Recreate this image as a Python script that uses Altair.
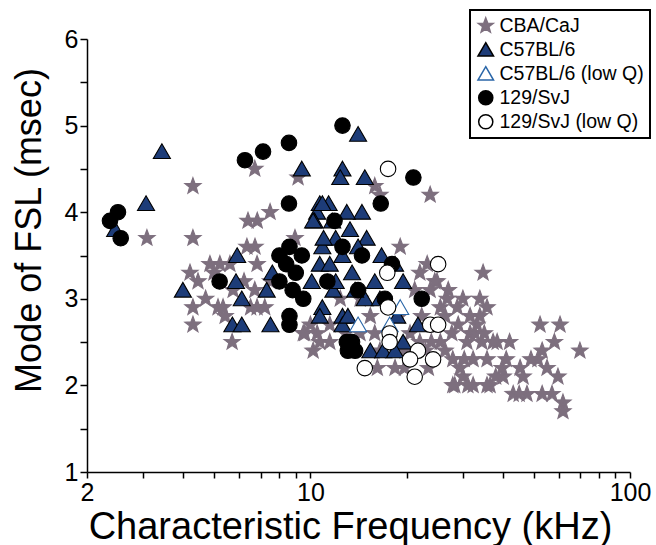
import altair as alt
import pandas as pd

# ---- first-spike latency mode vs characteristic frequency, per strain ----
strains = ["CBA/CaJ", "C57BL/6", "C57BL/6 (low Q)", "129/SvJ", "129/SvJ (low Q)"]

cba_x = [3.08, 4.29, 4.29, 4.85, 5.21, 6.81, 6.7, 9.15, 6.38, 6.82, 7.48, 8.95, 6.33, 6.71,
         4.45, 4.29, 4.29, 5.14, 5.41, 5.69, 6.81, 5.73, 5.33, 4.2, 4.99, 4.7, 6.5, 7.2, 6.7,
         6.2, 5.6, 7.5, 9.5, 10.2, 10.7, 9.6, 10.5, 11.5, 10.0,
         12.4, 14.3, 15.4, 15.9, 14.3, 12.9, 11.5, 15.9, 16.5, 23.7, 19.1, 23.2,
         22.0, 24.9, 26.8, 24.5, 27.0, 19.0, 20.5, 22.0, 25.5, 19.8, 16.5, 18.4, 22.9, 25.5,
         23.7, 21.2, 16.2, 19.7, 23.4, 23.9, 22.3, 26.4, 26.4, 27.9, 28.3, 30.0, 31.6, 29.0,
         34.7, 33.9, 35.7, 33.9, 33.2, 52.3, 60.4, 69.7, 53.1, 51.5, 55.0, 59.5,
         38.4, 34.4, 32.3, 35.7, 39.8, 45.3, 40.1, 46.3, 36.5, 43.1, 47.6, 53.1, 32.3, 61.7, 61.7,
         28.8, 30.0, 27.7, 30.9, 37.3, 29.4, 27.9, 31.1, 35.7,
         31.6, 32.7, 30.3, 35.0, 42.0, 49.0, 38.0, 41.0, 57.0, 58.0, 45.0]
cba_y = [3.7, 3.7, 4.3, 3.4, 3.4, 3.4, 4.5, 4.4, 3.9, 3.9, 4.0, 3.7, 3.6, 3.6,
         3.2, 2.9, 2.7, 2.9, 2.8, 2.5, 2.9, 3.1, 2.9, 3.3, 3.3, 3.0, 2.9, 2.9, 3.1,
         3.2, 3.4, 3.2, 2.6, 2.4, 2.5, 2.6, 2.6, 2.5, 2.7,
         3.0, 3.0, 2.8, 2.6, 2.6, 2.6, 2.7, 4.3, 4.2, 4.2, 3.6, 3.4,
         3.3, 3.2, 3.0, 3.2, 3.1, 2.8, 2.6, 2.5, 2.5, 2.4, 2.4, 2.2, 2.4, 2.9,
         3.1, 3.1, 2.2, 2.2, 2.2, 2.5, 2.8, 2.8, 2.4, 2.3, 2.0, 2.1, 2.6, 2.7,
         3.3, 3.0, 2.9, 2.8, 2.7, 2.7, 2.7, 2.4, 2.4, 2.3, 2.2, 2.1,
         2.5, 2.5, 2.3, 2.3, 2.2, 2.2, 2.1, 2.1, 2.0, 1.9, 1.9, 1.9, 2.0, 1.8, 1.7,
         2.9, 3.0, 2.6, 2.5, 2.5, 2.2, 2.0, 2.0, 2.0,
         2.8, 2.6, 2.3, 2.6, 2.5, 2.3, 2.1, 2.3, 1.9, 2.5, 1.9]

b6_x = [3.43, 3.06, 2.45, 9.4, 12.6, 12.4, 14.8, 14.1, 14.5,
        10.7, 11.4, 10.5, 10.3, 10.9, 10.2,
        13.3, 15.0, 14.1, 16.7, 18.4,
        10.9, 10.7, 11.5, 5.9, 7.6,
        3.99, 5.85, 6.1, 5.7, 6.1, 7.3, 7.5, 10.1, 11.8, 10.9, 10.7, 12.6, 12.6,
        14.8, 19.5, 13.1, 18.7, 21.7, 15.4, 16.9, 19.5, 18.4,
        12.0, 12.6, 13.5, 11.0, 12.0, 13.8, 15.9, 16.5, 11.7, 13.0]
b6_y = [4.7, 4.1, 3.8, 4.5, 4.5, 4.4, 4.4, 4.9, 4.0,
        4.1, 4.1, 4.0, 3.9, 4.1, 3.9,
        3.8, 3.7, 3.6, 3.5, 3.4,
        3.6, 3.4, 3.4, 3.5, 3.3,
        3.1, 3.2, 3.0, 2.7, 2.7, 3.1, 2.7, 3.2, 3.1, 2.9, 2.8, 2.8, 2.7,
        3.0, 3.2, 2.8, 2.8, 2.7, 2.4, 2.4, 2.5, 2.4,
        3.7, 3.5, 3.3, 3.7, 3.2, 3.1, 3.2, 3.0, 3.9, 4.0]

b6lq_x = [14.1, 17.7, 19.1]
b6lq_y = [2.7, 2.7, 2.9]

sv_x = [2.36, 2.50, 2.55, 6.24, 7.11, 8.57, 12.6, 8.57, 21.0, 16.6, 11.9,
        8.6, 8.0, 9.4, 8.0, 8.8, 9.5, 8.6, 8.6, 5.2, 11.3, 13.0,
        14.5, 18.0, 14.1, 17.1, 22.3, 13.5, 13.8, 13.1, 12.6, 8.4, 9.0]
sv_y = [3.9, 4.0, 3.7, 4.6, 4.7, 4.8, 5.0, 4.1, 4.4, 4.1, 3.9,
        3.6, 3.5, 3.5, 3.2, 3.1, 3.0, 2.8, 2.7, 3.2, 3.2, 2.5,
        3.5, 3.4, 3.1, 3.0, 3.0, 2.5, 2.4, 2.4, 3.6, 3.4, 3.3]

svlq_x = [17.5, 25.1, 17.4, 17.5, 17.7, 17.7, 23.7, 25.1, 21.7, 20.5, 24.2, 14.8, 21.2]
svlq_y = [4.5, 3.4, 3.3, 2.9, 2.6, 2.5, 2.7, 2.7, 2.4, 2.3, 2.3, 2.2, 2.1]

series = [(cba_x, cba_y), (b6_x, b6_y), (b6lq_x, b6lq_y), (sv_x, sv_y), (svlq_x, svlq_y)]
frames = []
for name, (xs, ys) in zip(strains, series):
    frames.append(pd.DataFrame({"cf": xs, "fsl": ys, "strain": name}))
df = pd.concat(frames, ignore_index=True)

STAR = ("M0,-1.1L0.27,-0.37L1.05,-0.34L0.44,0.14L0.65,0.89L0,0.46"
        "L-0.65,0.89L-0.44,0.14L-1.05,-0.34L-0.27,-0.37Z")
TRI = "M0,-1L1.1,0.9L-1.1,0.9Z"

FONT = "Liberation Sans"

x_ticks = [2, 3, 4, 5, 6, 7, 8, 9, 10, 20, 30, 40, 50, 60, 70, 80, 90, 100]
y_ticks = [1, 1.5, 2, 2.5, 3, 3.5, 4, 4.5, 5, 5.5, 6]

points = alt.Chart(df).mark_point(filled=False, opacity=1, size=240, strokeWidth=1.1).encode(
    x=alt.X("cf:Q",
            scale=alt.Scale(type="log", domain=[2, 100], nice=False),
            axis=alt.Axis(values=x_ticks,
                          labelExpr="indexof([2, 10, 100], datum.value) >= 0 ? format(datum.value, 'd') : ''",
                          title="Characteristic Frequency (kHz)",
                          labelFlush=False,
                          tickSize=6, labelPadding=2,
                          titleFontSize=38,
                          titleX=263, titleY=66, titleBaseline="alphabetic")),
    y=alt.Y("fsl:Q",
            scale=alt.Scale(domain=[1, 6], nice=False, zero=False),
            axis=alt.Axis(values=y_ticks,
                          labelExpr="datum.value % 1 === 0 ? format(datum.value, 'd') : ''",
                          title="Mode of FSL (msec)",
                          tickSize=7, labelPadding=2,
                          titleFontSize=36,
                          titleX=-47, titleY=191, titleBaseline="alphabetic")),
    shape=alt.Shape("strain:N",
                    scale=alt.Scale(domain=strains, range=[STAR, TRI, TRI, "circle", "circle"]),
                    legend=alt.Legend(title=None, orient="none", legendX=383, legendY=-29,
                                      symbolSize=200, labelFontSize=19.5, labelFont=FONT,
                                      rowPadding=3, labelOffset=4, padding=6,
                                      strokeColor="black", fillColor="white",
                                      symbolStrokeWidth=1.5)),
    fill=alt.Fill("strain:N",
                  scale=alt.Scale(domain=strains,
                                  range=["#7d6f7e", "#1d3c78", "#ffffff", "#000000", "#ffffff"])),
    stroke=alt.Stroke("strain:N",
                      scale=alt.Scale(domain=strains,
                                      range=["#7d6f7e", "#000000", "#2a66a8", "#000000", "#000000"])),
)

chart = points.properties(
    width=543, height=433,
    padding={"left": 87, "top": 39, "right": 26, "bottom": 73},
    autosize=alt.AutoSizeParams(type="none"),
).configure_view(stroke=None).configure_axis(
    grid=False,
    domainColor="black", domainWidth=1.5,
    tickColor="black", tickWidth=1.5,
    labelFont=FONT, labelFontSize=25, labelColor="black",
    titleFont=FONT, titleFontWeight="normal", titleColor="black",
).configure_legend(strokeWidth=2)

chart.save("out.html", embed_options={"renderer": "svg", "actions": False})
